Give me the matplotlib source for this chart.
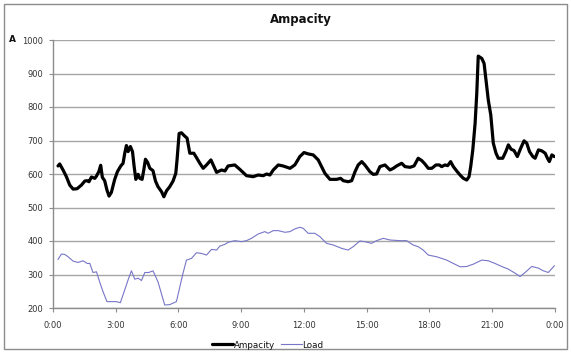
import matplotlib
matplotlib.use("Agg")
import matplotlib.pyplot as plt
from matplotlib.patches import Rectangle

# Ampacity (A) over the day, hours since midnight
amp_hours = [0.24, 0.32, 0.48, 0.64, 0.80, 0.96, 1.15, 1.36, 1.52, 1.63, 1.72, 1.84, 2.00, 2.08,
             2.19, 2.28, 2.36, 2.47, 2.58, 2.68, 2.79, 2.95, 3.08, 3.24, 3.35, 3.43, 3.51, 3.59,
             3.70, 3.80, 3.88, 3.96, 4.07, 4.15, 4.26, 4.34, 4.42, 4.52, 4.63, 4.78, 4.90, 5.02,
             5.19, 5.30, 5.43, 5.58, 5.74, 5.87, 5.93, 6.03, 6.14, 6.30, 6.41, 6.54, 6.73, 6.86,
             7.02, 7.18, 7.34, 7.55, 7.66, 7.82, 8.06, 8.22, 8.37, 8.69, 8.93, 9.25, 9.57, 9.81,
             10.05, 10.21, 10.37, 10.53, 10.77, 11.00, 11.33, 11.56, 11.80, 12.00, 12.20, 12.44,
             12.68, 12.84, 13.00, 13.24, 13.56, 13.75, 13.88, 14.11, 14.28, 14.44, 14.59, 14.76,
             14.91, 15.15, 15.31, 15.47, 15.63, 15.87, 16.11, 16.27, 16.43, 16.67, 16.83, 17.07,
             17.26, 17.46, 17.63, 17.78, 17.94, 18.11, 18.31, 18.47, 18.58, 18.74, 18.87, 19.01,
             19.14, 19.30, 19.46, 19.62, 19.78, 19.89, 19.97, 20.07, 20.18, 20.26, 20.33, 20.50,
             20.61, 20.70, 20.81, 20.93, 21.05, 21.18, 21.29, 21.50, 21.65, 21.77, 21.90, 22.04,
             22.20, 22.36, 22.52, 22.65, 22.78, 22.94, 23.05, 23.21, 23.37, 23.53, 23.64, 23.73,
             23.85, 23.97]
amp_values = [624, 630, 612, 592, 567, 555, 556, 567, 579, 580, 577, 591, 587, 594,
              607, 626, 590, 580, 552, 534, 545, 584, 607, 624, 632, 662, 685, 667,
              682, 667, 622, 584, 599, 587, 584, 612, 644, 635, 617, 610, 579, 562,
              547, 532, 550, 562, 579, 602, 642, 721, 723, 713, 707, 662, 662, 649,
              632, 617, 627, 642, 627, 605, 612, 609, 624, 627, 614, 595, 592, 597,
              595, 600, 597, 612, 627, 624, 617, 627, 652, 664, 660, 657,
              642, 622, 602, 584, 584, 587, 580, 577, 580, 607, 627, 637,
              627, 607, 599, 600, 622, 627, 612, 617, 624, 632, 622, 620,
              624, 647, 640, 630, 617, 617, 627, 627, 622, 627, 625, 637,
              622, 609, 597, 587, 582, 592, 622, 672, 751, 841, 952, 945,
              930, 881, 821, 776, 692, 662, 647, 647, 667, 687, 674, 670,
              652, 677, 699, 692, 667, 652, 647, 672, 669, 662, 647, 637,
              657, 652]

# Load (A) over the day
load_hours = [0.24, 0.40, 0.56, 0.72, 0.96, 1.20, 1.44, 1.63, 1.76, 1.91, 2.08, 2.23, 2.39,
              2.58, 2.79, 3.03, 3.22, 3.43, 3.59, 3.75, 3.91, 4.07, 4.23, 4.39, 4.58, 4.78,
              5.02, 5.34, 5.58, 5.90, 6.06, 6.20, 6.38, 6.62, 6.86, 7.10, 7.34, 7.58, 7.82,
              7.98, 8.22, 8.37, 8.69, 9.01, 9.25, 9.49, 9.81, 10.13, 10.29, 10.53, 10.77,
              11.09, 11.33, 11.56, 11.80, 11.96, 12.20, 12.52, 12.76, 13.08, 13.40, 13.80,
              14.11, 14.35, 14.67, 14.91, 15.23, 15.47, 15.79, 16.11, 16.59, 16.91, 17.22,
              17.46, 17.70, 17.94, 18.34, 18.82, 19.14, 19.46, 19.78, 20.10, 20.50, 20.81,
              21.13, 21.45, 21.77, 22.09, 22.33, 22.57, 22.89, 23.21, 23.44, 23.68, 23.97]
load_values = [345, 361, 360, 353, 340, 336, 341, 333, 333, 306, 308, 278, 249,
               219, 219, 219, 216, 254, 284, 311, 286, 289, 282, 306, 306, 311,
               278, 209, 210, 219, 262, 300, 343, 348, 365, 363, 358, 375, 373,
               385, 390, 396, 401, 398, 401, 408, 421, 428, 423, 431, 431,
               426, 428, 436, 441, 438, 423, 423, 413, 393, 388, 378,
               373, 383, 400, 398, 393, 401, 408, 403, 401, 401, 388,
               383, 373, 358, 353, 343, 333, 323, 324, 331, 343, 341,
               333, 324, 316, 304, 294, 306, 324, 319, 311, 306, 326]

tick_hours = [0, 3, 6, 9, 12, 15, 18, 21, 24]
tick_labels = ["0:00", "3:00", "6:00", "9:00", "12:00", "15:00", "18:00", "21:00", "0:00"]
y_ticks = [200, 300, 400, 500, 600, 700, 800, 900, 1000]

W, H = 571, 353
fig = plt.figure(figsize=(W / 100, H / 100), dpi=100)
fig.patch.set_facecolor("white")

# outer chart frame
fig.patches.append(Rectangle((4 / W, 4 / H), (W - 8) / W, (H - 8) / H,
                             transform=fig.transFigure, fill=False,
                             edgecolor="#8c8c8c", linewidth=1.0))

ax = fig.add_axes([53 / W, (H - 308) / H, (555 - 53) / W, (308 - 40) / H])
ax.set_xlim(0, 24)
ax.set_ylim(200, 1000)

grid_c = "#a6a6a6"
for v in y_ticks:
    ax.axhline(v, color=grid_c, linewidth=1.0, zorder=1)

ln_amp, = ax.plot(amp_hours, amp_values, color="black", linewidth=2.3,
                  solid_joinstyle="round", solid_capstyle="round", zorder=3, label="Ampacity")
ln_load, = ax.plot(load_hours, load_values, color="#7676c8", linewidth=0.8,
                   zorder=2, label="Load")

ax.set_xticks(tick_hours)
ax.set_xticklabels(tick_labels)
ax.set_yticks(y_ticks)
ax.set_yticklabels([str(v) for v in y_ticks])
ax.tick_params(axis="both", direction="out", length=3, width=0.8, color="#8c8c8c",
               labelsize=6, labelcolor="#333333", pad=4)
ax.tick_params(axis="x", pad=6)

for s in ["top", "right"]:
    ax.spines[s].set_visible(False)
for s in ["left", "bottom"]:
    ax.spines[s].set_color("#8c8c8c")
    ax.spines[s].set_linewidth(1.0)

fig.text(301 / W, 1 - 19 / H, "Ampacity", ha="center", va="center",
         fontsize=8.5, fontweight="bold", color="#111111")
fig.text(12 / W, 1 - 40 / H, "A", ha="center", va="center",
         fontsize=6.5, fontweight="bold", color="#111111")

fig.legend(handles=[ln_amp, ln_load], loc="center", bbox_to_anchor=(268 / W, 1 - 345 / H),
           ncol=2, frameon=False, fontsize=6.3, handlelength=2.4, handletextpad=0.1,
           columnspacing=0.6, labelcolor="#111111")

fig.savefig("out.png", dpi=100, facecolor="white")
